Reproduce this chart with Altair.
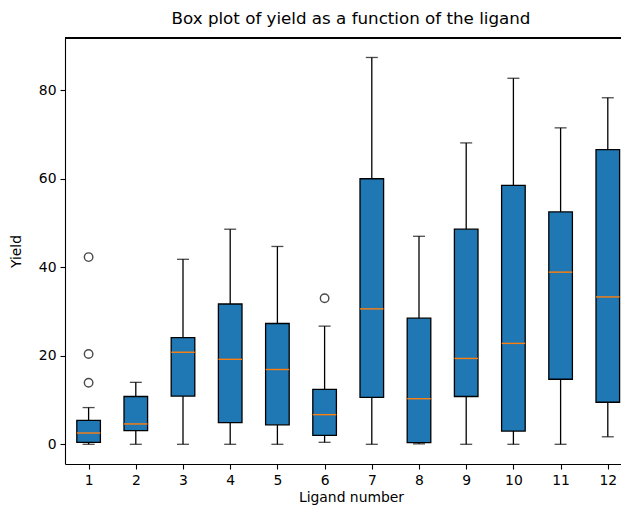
import altair as alt
import pandas as pd

ligands = list(range(1, 13))
whisker_low = [0.0, 0.0, 0.0, 0.0, 0.0, 0.45, 0.0, 0.1, 0.0, 0.0, 0.0, 1.7]
q1 = [0.45, 3.1, 10.9, 4.9, 4.4, 2.0, 10.6, 0.4, 10.8, 3.0, 14.7, 9.5]
median = [2.55, 4.6, 20.8, 19.2, 16.9, 6.7, 30.6, 10.3, 19.4, 22.8, 38.9, 33.3]
q3 = [5.4, 10.8, 24.1, 31.7, 27.3, 12.4, 60.0, 28.5, 48.6, 58.5, 52.5, 66.6]
whisker_high = [8.3, 14.0, 41.8, 48.6, 44.7, 26.7, 87.4, 47.0, 68.1, 82.7, 71.5, 78.3]
outlier_ligand = [1, 1, 1, 6]
outlier_value = [42.3, 20.4, 13.9, 33.0]

boxes = pd.DataFrame({
    "ligand": ligands, "wlo": whisker_low, "q1": q1,
    "med": median, "q3": q3, "whi": whisker_high,
})
outliers = pd.DataFrame({"ligand": outlier_ligand, "value": outlier_value})

FONT = "DejaVu Sans"
W, H = 556, 426
xs = alt.Scale(domain=[0.5, 0.5 + W / 47.2], nice=False, zero=False)
ys = alt.Scale(domain=[-4.45, 91.8], nice=False, zero=False)
xaxis = alt.Axis(values=ligands, title="Ligand number", format="d", titleX=286)
yaxis = alt.Axis(values=[0, 20, 40, 60, 80], title="Yield")


def X(field):
    return alt.X(f"{field}:Q", scale=xs, axis=xaxis, title="Ligand number")


def Y(field):
    return alt.Y(f"{field}:Q", scale=ys, axis=yaxis, title="Yield")


base = alt.Chart(boxes).transform_calculate(
    xlo="datum.ligand - 0.25", xhi="datum.ligand + 0.25"
)

lower = base.mark_rule(color="black", strokeWidth=1.3).encode(
    x=X("ligand"), y=Y("wlo"), y2="q1:Q")
upper = base.mark_rule(color="black", strokeWidth=1.3).encode(
    x=X("ligand"), y=Y("q3"), y2="whi:Q")
cap_lo = base.mark_tick(orient="horizontal", size=12, thickness=1.3, color="black").encode(
    x=X("ligand"), y=Y("wlo"))
cap_hi = base.mark_tick(orient="horizontal", size=12, thickness=1.3, color="black").encode(
    x=X("ligand"), y=Y("whi"))
box = base.mark_bar(fill="#1f77b4", stroke="black", strokeWidth=1.3).encode(
    x=X("xlo"), x2="xhi:Q", y=Y("q1"), y2="q3:Q")
med = base.mark_rule(color="#ff7f0e", strokeWidth=1.4).encode(
    x=X("xlo"), x2="xhi:Q", y=Y("med"))
pts = alt.Chart(outliers).mark_point(
    shape="circle", filled=False, color="black", size=72, strokeWidth=1.4
).encode(x=X("ligand"), y=Y("value"))
top = alt.Chart(boxes).mark_rule(color="black", strokeWidth=1.1).encode(
    x=alt.value(0), x2=alt.value(W), y=alt.value(0))

chart = alt.layer(lower, upper, cap_lo, cap_hi, box, med, pts, top).properties(
    width=W,
    height=H,
    padding={"left": 57, "top": 30, "right": 0, "bottom": 41},
    autosize=alt.AutoSizeParams(type="none"),
    title=alt.TitleParams(
        "Box plot of yield as a function of the ligand",
        font=FONT, fontSize=16.7, fontWeight="normal", color="black",
        anchor="middle", frame="group", dx=8, offset=10,
    ),
).configure_view(stroke=None).configure_axis(
    grid=False,
    domainColor="black", domainWidth=1.1,
    tickColor="black", tickSize=5, tickWidth=1.1,
    labelFont=FONT, labelFontSize=13.9, labelColor="black", labelPadding=4,
    titleFont=FONT, titleFontSize=13.9, titleFontWeight="normal", titleColor="black",
).configure_axisX(titlePadding=4, labelAngle=0).configure_axisY(titlePadding=15)

chart.save("out.html", embed_options={"renderer": "svg", "actions": False})
